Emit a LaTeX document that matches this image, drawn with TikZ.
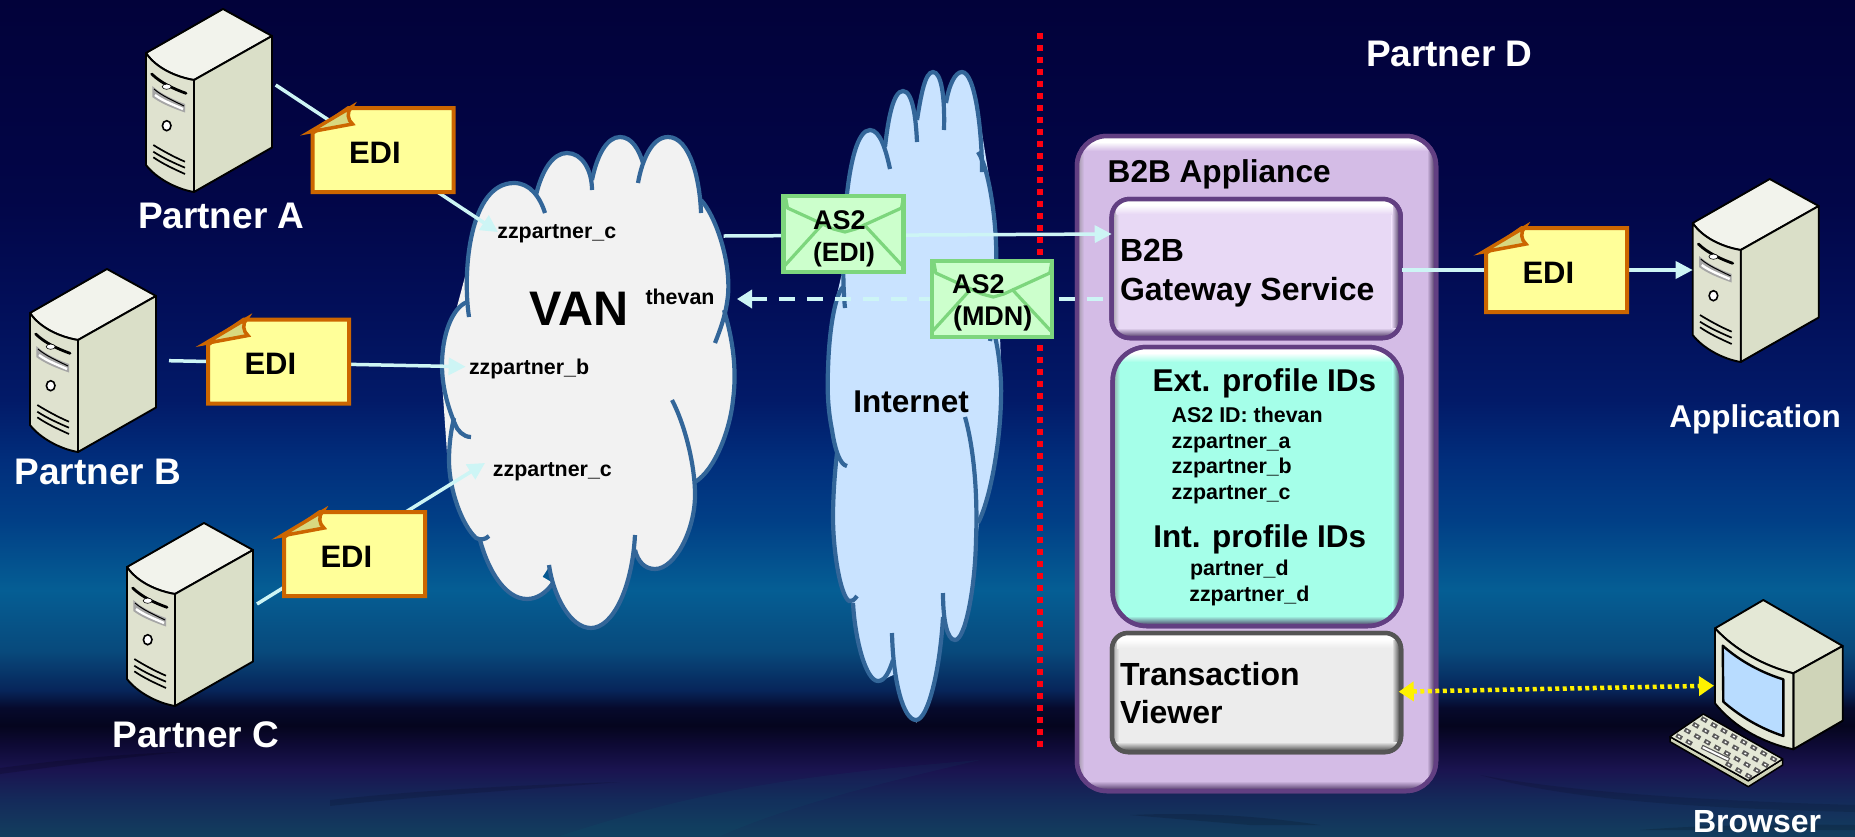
\documentclass[tikz,border=0pt]{standalone}
\usepackage{fontspec}
\setmainfont{Liberation Sans}
\usetikzlibrary{arrows.meta}
\definecolor{b0}{HTML}{133E5E}\definecolor{b1}{HTML}{142A5A}\definecolor{b2}{HTML}{1A1450}
\definecolor{b3}{HTML}{0E0A35}\definecolor{b4}{HTML}{05051E}\definecolor{b5}{HTML}{060A2C}
\definecolor{b6}{HTML}{07255A}\definecolor{b7}{HTML}{084A7C}\definecolor{b8}{HTML}{055E94}
\definecolor{b9}{HTML}{013F86}\definecolor{b10}{HTML}{012E7C}\definecolor{b11}{HTML}{021A68}
\definecolor{b12}{HTML}{020E58}\definecolor{b13}{HTML}{020648}\definecolor{b14}{HTML}{02023A}
\pgfdeclareverticalshading{bgsh}{100bp}{color(0bp)=(b0); color(25bp)=(b0); color(27.15bp)=(b1); color(28.95bp)=(b2);
 color(30.44bp)=(b3); color(31.6bp)=(b4); color(32.66bp)=(b5); color(33.73bp)=(b6); color(36.1bp)=(b7); color(39.7bp)=(b8);
 color(43.9bp)=(b9); color(47.5bp)=(b10); color(51.08bp)=(b11); color(57.06bp)=(b12); color(63.04bp)=(b13); color(75bp)=(b14); color(100bp)=(b14)}
\definecolor{srvtop}{HTML}{F2F3EC}\definecolor{srvfront}{HTML}{DFE2CF}\definecolor{srvside}{HTML}{DADFC8}
\definecolor{montop}{HTML}{E4E8D6}\definecolor{monside}{HTML}{CFD4B8}\definecolor{screen}{HTML}{B8DCFF}
\definecolor{noteline}{HTML}{CC6600}\definecolor{notefill}{HTML}{FFFF99}\definecolor{notefold}{HTML}{D8D880}
\definecolor{envline}{HTML}{7DD67D}\definecolor{envfill}{HTML}{CCFFCC}
\definecolor{cloudline}{HTML}{336699}\definecolor{vanfill}{HTML}{F2F2F2}\definecolor{netfill}{HTML}{C9E3FF}
\definecolor{wire}{HTML}{CDF5F5}\definecolor{redline}{HTML}{FF0010}
\definecolor{applfill}{HTML}{D4BCE6}\definecolor{applline}{HTML}{623F82}
\definecolor{gwfill}{HTML}{E8D9F5}\definecolor{idfill}{HTML}{A5FFE9}\definecolor{tvfill}{HTML}{ECECEC}\definecolor{tvline}{HTML}{555555}
\newcommand\glossbox[8]{%
 \node[draw=#8,fill=#7,line width=4.5pt,rounded corners=#6pt,inner sep=0pt,outer sep=0pt,minimum width=#4pt,minimum height=#5pt] (#1) at (#2,#3) {};
 \begin{scope}
 \clip[rounded corners=#6pt] ({#2-#4/2},{#3-#5/2}) rectangle ({#2+#4/2},{#3+#5/2});
 \shade[left color=#7!30!gray,right color=#7] ({#2-#4/2},{#3-#5/2}) rectangle ({#2-#4/2+7},{#3+#5/2});
 \shade[left color=#7,right color=#8!60!black] ({#2+#4/2-9},{#3-#5/2}) rectangle ({#2+#4/2},{#3+#5/2});
 \shade[top color=white,bottom color=white] ({#2-#4/2},{#3-#5/2}) rectangle ({#2+#4/2},{#3-#5/2+6});
 \shade[top color=white,bottom color=#7] ({#2-#4/2+5},{#3-#5/2+6}) rectangle ({#2+#4/2-8},{#3-#5/2+15});
 \shade[top color=#7,bottom color=#8!70!black] ({#2-#4/2},{#3+#5/2-10}) rectangle ({#2+#4/2},{#3+#5/2});
 \end{scope}
 \draw[#8,line width=4.5pt,rounded corners=#6pt] ({#2-#4/2},{#3-#5/2}) rectangle ({#2+#4/2},{#3+#5/2});
}
\tikzset{
 x=1pt,y=-1pt,
 lbl/.style={font=\bfseries\fontsize{#1pt}{#1pt}\selectfont,inner sep=0pt,outer sep=0pt,anchor=base west,text=black},
 whitelbl/.style={lbl=#1,text=white},
 srvline/.style={draw=black,line width=1.9pt,line join=round},
 wireline/.style={draw=wire,line width=3.5pt,-{Triangle[length=17pt,width=17pt,fill=wire]}},
 cloudstroke/.style={draw=cloudline,line width=4.2pt,line cap=butt},
 server/.pic={
  \path[srvline,fill=srvtop] (0,0) -- (77,-44) -- (126,-17) -- (48,27) .. controls (30,24) and (10,15) .. (0,0) -- cycle;
  \path[srvline,fill=srvside] (48,27) -- (126,-17) -- (126,94.5) -- (48,139) -- cycle;
  \path[srvline,fill=srvfront] (0,0) .. controls (10,15) and (30,24) .. (48,27) -- (48,139) .. controls (30,136) and (10,125) .. (0,112) -- cycle;
  \draw[black,line width=2.8pt,line cap=round] (5.7,21) .. controls (15,30) and (28,36) .. (40,40.3);
  \fill[gray!70!white] (6.3,33) .. controls (15,41) and (28,47) .. (39,51) -- (39,59.5) .. controls (26,55) and (14,50) .. (6.3,44) -- cycle;
  \draw[black,line width=1pt] (8,36) .. controls (16,43) and (28,48) .. (38,53);
  \draw[white,line width=2.4pt] (9,42) .. controls (17,48) and (28,52) .. (37,56);
  \draw[black,fill=white,line width=.6pt] (20.7,33.7) ellipse (4.5 and 2.6);
  \draw[black,fill=white,line width=1.6pt] (20.7,72.7) ellipse (4.3 and 5);
  \draw[black,line width=1.7pt] (7.3,92) .. controls (17,98) and (28,104) .. (39,108.7);
  \draw[black,line width=1.7pt] (7.3,98.7) .. controls (17,105) and (28,110) .. (39,114.7);
  \draw[black,line width=1.7pt] (7.3,104.3) .. controls (17,111) and (28,116) .. (39,121);
 },
 ednote/.pic={
  \path[draw=noteline,fill=notefill,line width=4pt,line join=miter] (0,25) -- (0,84) -- (141,84) -- (141,0) -- (36,0) -- cycle;
  \path[draw=noteline,fill=notefold,line width=3.5pt,line join=miter] (-3,24) -- (39,-1) .. controls (34,4) and (35,12) .. (40,16) -- cycle;
  \node[lbl=31] (-txt) at (36.5,55) {EDI};
 },
 envel/.pic={
  \path[draw=envline,fill=envfill,line width=4.5pt] (0,0) rectangle (120,76);
  \path[draw=envline,line width=3.2pt,line join=round] (2,1) -- (4,12) -- (50,33) -- (61.5,36) -- (72,33) -- (118,12) -- (120,1);
  \path[draw=envline,line width=3.2pt] (0,71) -- (40,27);
  \path[draw=envline,line width=3.2pt] (80,28) -- (120,71);
 },
 monitor/.pic={
  \path[srvline,fill=montop] (0,0) -- (48.3,-28.3) -- (127.7,17.7) -- (78.3,45) .. controls (50,38) and (20,22) .. (0,0) -- cycle;
  \path[srvline,fill=monside] (78.3,45) -- (127.7,17.7) -- (127.7,92.4) -- (78.3,121) -- cycle;
  \path[srvline,fill=montop] (0,0) .. controls (20,22) and (50,38) .. (78.3,45) -- (78.3,121) .. controls (50,115) and (20,100) .. (0,75) -- cycle;
  \path[draw=black,fill=screen,line width=2.4pt,line join=round] (7.7,17.4) .. controls (25,33) and (48,45) .. (68.3,51) -- (68.3,107.7) .. controls (45,100) and (25,88) .. (8.3,73.4) -- cycle;
 },
 keybd/.pic={
  \path[srvline,line width=1.5pt,fill=monside] (-33.3,22.7) -- (45,66.7) -- (79.4,45) -- (79.4,51) -- (45,72.7) -- (-33.3,27.7) -- cycle;
  \path[srvline,line width=1.5pt,fill=montop] (0,0) -- (79.4,45) -- (45,66.7) -- (-33.3,22.7) -- cycle;
  \foreach \i in {0,...,7} \foreach \j in {0,...,3} {
   \pgfmathsetmacro\ka{(\i+.5)/8}\pgfmathsetmacro\kb{(\j+.5)/4}
   \pgfmathsetmacro\kx{79.4*\ka-33.3*\kb}\pgfmathsetmacro\ky{45*\ka+22.7*\kb}
   \pgfmathtruncatemacro\keyskip{(\j==3 && \i>=2 && \i<=4) ? 1 : 0}
   \ifnum\keyskip=0
    \draw[black!65,line width=4.2pt] (\kx-2.8,\ky-1.6) -- (\kx+2.8,\ky+1.6);
    \draw[white,line width=1.4pt] (\kx-.9,\ky-.5) -- (\kx+.9,\ky+.5);
   \fi
  }
  \draw[black!65,line width=4.4pt] (-1.6,32.7) -- (26,46);
  \draw[white,line width=2pt] (-.6,33.2) -- (25,45.6);
 },
}
\def\vanL{%
 \lobe{(469,317) .. controls (462,270) and (470,183) .. (514,183) .. controls (530,183) and (540,197) .. (545,213)}
 \lobe{(536,195) .. controls (542,170) and (553,153) .. (567,153) .. controls (582,153) and (592,170) .. (592,190)}
 \lobe{(592,180) .. controls (597,155) and (607,137) .. (620,137) .. controls (632,137) and (639,150) .. (643,163)}
 \lobe{(638,183) .. controls (642,160) and (652,137) .. (668,137) .. controls (690,137) and (700,180) .. (701,213)}
 \lobe{(701,200) .. controls (715,215) and (731,260) .. (728,295) .. controls (726,315) and (720,330) .. (715,343)}
 \lobe{(724,310) .. controls (733,340) and (737,370) .. (733,400) .. controls (730,430) and (715,470) .. (695,482)}
 \lobe{(672,400) .. controls (685,425) and (695,465) .. (695,495) .. controls (695,530) and (675,569) .. (655,569) .. controls (645,569) and (638,562) .. (635,550)}
 \lobe{(635,535) .. controls (632,590) and (612,628) .. (591,628) .. controls (570,628) and (553,595) .. (549,565)}
 \lobe{(553,583) .. controls (546,593) and (537,599) .. (527,599) .. controls (505,599) and (488,570) .. (480,540)}
 \lobe{(489,536) .. controls (485,540) and (480,540) .. (476,538) .. controls (462,525) and (449,490) .. (449,460) .. controls (449,445) and (451,430) .. (454,418)}
 \lobe{(471,437) .. controls (463,437) and (457,430) .. (455,424) .. controls (447,405) and (442,385) .. (442,365) .. controls (442,335) and (452,308) .. (467,302)}
}
\def\netL{%
 \lobe{(845,308) .. controls (840,260) and (845,130) .. (870,130) .. controls (880,130) and (886,150) .. (890,169)}
 \lobe{(885,147) .. controls (888,120) and (893,91) .. (903,91) .. controls (913,91) and (916,120) .. (917,142)}
 \lobe{(917,120) .. controls (921,95) and (925,72) .. (933,72) .. controls (941,72) and (945,95) .. (944,130)}
 \lobe{(946,103) .. controls (949,85) and (955,72) .. (962,72) .. controls (975,72) and (982,130) .. (982,172)}
 \lobe{(978,152) .. controls (990,170) and (998,230) .. (996,270) .. controls (995,300) and (993,325) .. (990,341)}
 \lobe{(990,320) .. controls (998,340) and (1002,375) .. (1001,400) .. controls (1000,445) and (990,500) .. (978,523)}
 \lobe{(965,417) .. controls (973,445) and (978,490) .. (976,540) .. controls (975,590) and (965,640) .. (955,640) .. controls (947,640) and (943,620) .. (943,593)}
 \lobe{(943,617) .. controls (940,670) and (928,720) .. (916,720) .. controls (903,720) and (893,680) .. (892,633)}
 \lobe{(893,660) .. controls (889,672) and (885,681) .. (878,681) .. controls (866,681) and (855,640) .. (853,603)}
 \lobe{(857,596) .. controls (854,600) and (852,602) .. (849,601) .. controls (840,595) and (833,550) .. (833,517) .. controls (833,495) and (835,470) .. (837,453)}
 \lobe{(847,466) .. controls (840,465) and (835,450) .. (832,430) .. controls (828,410) and (827,390) .. (828,370) .. controls (829,330) and (835,295) .. (843,287)}
}
\newcommand\lobefill[1]{\fill[\cloudcol] #1;}
\newcommand\lobestroke[1]{\path[cloudstroke] #1;}
\begin{document}
\begin{tikzpicture}
\useasboundingbox (0,0) rectangle (1855,836);
\shade[shading=bgsh] (0,0) rectangle (1855,836);
% horizon streaks
\fill[black,opacity=.16] (0,768) .. controls (60,760) and (120,754) .. (180,752) .. controls (120,758) and (60,766) .. (0,774) -- cycle;
\fill[black,opacity=.12] (330,800) .. controls (420,790) and (520,785) .. (620,782) .. controls (520,790) and (420,796) .. (330,806) -- cycle;
\fill[black,opacity=.12] (1480,775) .. controls (1560,790) and (1680,800) .. (1855,805) -- (1855,812) .. controls (1680,808) and (1560,798) .. (1480,775) -- cycle;
\fill[black,opacity=.15] (1640,830) .. controls (1700,825) and (1780,824) .. (1855,825) -- (1855,830) -- cycle;
\fill[teal,opacity=.07] (560,836) .. controls (700,790) and (800,775) .. (980,760) .. controls (850,790) and (780,810) .. (720,836) -- cycle;
\fill[black,opacity=.14] (1130,815) .. controls (1200,812) and (1260,816) .. (1320,825) -- (1250,825) -- cycle;
% red boundary
\coordinate (redT) at (1039.7,33);
\coordinate (redB) at (1039.7,748);
\draw[redline,line width=6pt,dash pattern=on 6pt off 6pt] (redT) -- (redB);
% VAN cloud
\def\cloudcol{vanfill}
\path[fill=vanfill,draw=vanfill,line width=2pt] (467,273) -- (480,210) -- (536,195) -- (592,180) -- (643,163) -- (701,200) -- (726,260) -- (724,310) -- (735,377) -- (695,482) -- (677,550) -- (635,548) -- (591,628) -- (549,565) -- (527,599) -- (480,540) -- (449,467) -- (442,367) -- cycle;
\let\lobe\lobefill \vanL
\path[fill=vanfill] (480,230) rectangle (690,520);
\let\lobe\lobestroke \vanL
% Internet cloud
\def\cloudcol{netfill}
\path[fill=netfill,draw=netfill,line width=2pt] (843,273) -- (850,177) -- (885,147) -- (917,120) -- (946,103) -- (980,127) -- (995,220) -- (1001,393) -- (978,523) -- (965,627) -- (943,617) -- (916,720) -- (895,673) -- (878,681) -- (853,603) -- (835,557) -- (837,453) -- (827,390) -- (832,320) -- cycle;
\let\lobe\lobefill \netL
\let\lobe\lobestroke \netL
% appliance
\glossbox{appl}{1256.5}{463.5}{359}{655}{30}{applfill}{applline}
\glossbox{gw}{1256.2}{268.5}{289}{139}{18}{gwfill}{applline}
\glossbox{ids}{1257.2}{486.5}{289}{279}{34}{idfill}{applline}
\glossbox{tv}{1256.5}{692.5}{289}{119}{16}{tvfill}{tvline}
% servers
\pic at (146,53) {server};
\pic at (30,313) {server};
\pic at (127,567) {server};
\pic at (1692.7,223) {server};
\pic at (1715,628.3) {monitor};
\pic at (1703.3,714) {keybd};
% connector ends
\coordinate (portA) at (275.7,85);
\coordinate (portB) at (169,360.7);
\coordinate (portC) at (257,604);
\coordinate (tipA) at (498,232);
\coordinate (tipB) at (465.6,366.7);
\coordinate (tipC) at (485,463);
\coordinate (vanOut) at (723.7,236);
\coordinate (gwIn) at (1111.7,234);
\coordinate (gwDash) at (1103,299);
\coordinate (vanIn) at (737,299);
\coordinate (gwOut) at (1402,270);
\coordinate (appIn) at (1692.7,270);
\coordinate (tvPort) at (1398.7,691.7);
\coordinate (brPort) at (1714,685.7);
\draw[wireline] (portA) -- (tipA);
\draw[wireline] (portB) -- (tipB);
\draw[wireline] (portC) -- (tipC);
\draw[wireline] (vanOut) -- (gwIn);
\draw[draw=wire,line width=3.5pt,dash pattern=on 16pt off 12pt,-{Triangle[length=15pt,width=18pt,fill=wire]}] (gwDash) -- (vanIn);
\draw[wireline] (gwOut) -- (appIn);
\draw[draw=yellow,line width=4.5pt,dash pattern=on 4pt off 3.5pt,{Triangle[length=15pt,width=19pt,fill=yellow]}-{Triangle[length=15pt,width=19pt,fill=yellow]}] (tvPort) -- (brPort);
% notes
\pic (noteA) at (312.5,108) {ednote};
\pic (noteB) at (208,319.5) {ednote};
\pic (noteC) at (284,512) {ednote};
\pic (noteD) at (1486,228) {ednote};
% envelopes
\pic at (783.5,196) {envel};
\pic at (931.8,261) {envel};
% labels
\node[whitelbl=37] (partnerA) at (138,228) {Partner A};
\node[whitelbl=37] (partnerB) at (14.5,484) {Partner B};
\node[whitelbl=37] (partnerC) at (112.5,747) {Partner C};
\node[whitelbl=37] (partnerD) at (1366,66) {Partner D};
\node[whitelbl=31.5] (application) at (1669.3,427.7) {Application};
\node[whitelbl=32] (browser) at (1693,832.7) {Browser};
\node[lbl=48.5] (van) at (529.5,325.7) {VAN};
\node[lbl=21.4] (thevan) at (645.5,304) {thevan};
\node[lbl=21.4] (zcTop) at (497.3,238) {zzpartner\_c};
\node[lbl=21.4] (zb) at (469,374.3) {zzpartner\_b};
\node[lbl=21.4] (zcLow) at (492.9,476.7) {zzpartner\_c};
\node[lbl=31.5] (internet) at (853.3,412.7) {Internet};
\node[lbl=27] (as2a) at (813,229) {AS2};
\node[lbl=26.5] (as2aSub) at (813,261) {(EDI)};
\node[lbl=27] (as2b) at (952,293) {AS2};
\node[lbl=27] (as2bSub) at (953,325.7) {(MDN)};
\node[lbl=31.6] (applTitle) at (1107.7,182) {B2B Appliance};
\node[lbl=32] (gwA) at (1120,261.7) {B2B};
\node[lbl=32] (gwB) at (1120,300) {Gateway Service};
\node[lbl=31.5] (ext) at (1152.7,391.7) {Ext. profile IDs};
\node[lbl=21.4] (e1) at (1171.7,422) {AS2 ID: thevan};
\node[lbl=21.4] (e2) at (1171.7,448) {zzpartner\_a};
\node[lbl=21.4] (e3) at (1171.7,473.3) {zzpartner\_b};
\node[lbl=21.4] (e4) at (1171.7,499) {zzpartner\_c};
\node[lbl=31.5] (intl) at (1153.3,547.3) {Int. profile IDs};
\node[lbl=21.4] (i1) at (1190,575) {partner\_d};
\node[lbl=21.4] (i2) at (1189.3,601) {zzpartner\_d};
\node[lbl=32] (tvA) at (1120,685) {Transaction};
\node[lbl=32] (tvB) at (1120,723.3) {Viewer};
\end{tikzpicture}
\end{document}
